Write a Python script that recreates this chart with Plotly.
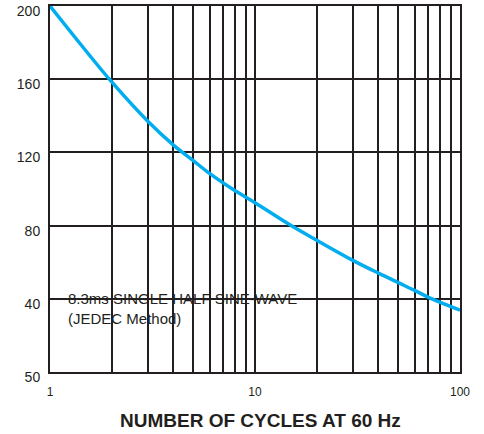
import plotly.graph_objects as go

cycles = [1, 1.4, 2, 3, 4, 5, 6, 8, 10, 15, 20, 30, 40, 50, 60, 72, 100]
current = [200, 179.5, 158.5, 137, 124, 115.5, 108.5, 99, 92.5, 80, 72, 61, 54, 48.8, 44.6, 40.2, 33.8]

x_grid = [1, 2, 3, 4, 5, 6, 7, 8, 9, 10, 20, 30, 40, 50, 60, 70, 80, 90, 100]
x_labels = ["1" if v == 1 else "10" if v == 10 else "100" if v == 100 else "" for v in x_grid]
y_ticks = [0, 40, 80, 120, 160, 200]
y_labels = ["50", "40", "80", "120", "160", "200"]

note = "8.3ms SINGLE HALF SINE-WAVE<br>(JEDEC Method)"
x_title = "NUMBER OF CYCLES AT 60 Hz"

grid_col = "#231f20"
font_fam = "Liberation Sans, Arial"

fig = go.Figure()
fig.add_trace(go.Scatter(
    x=cycles, y=current, mode="lines",
    line=dict(color="#00aeef", width=3.5, shape="spline", smoothing=1.0),
    hoverinfo="skip", showlegend=False,
))

fig.add_annotation(
    x=0.04, y=40, xref="x domain", yref="y", text=note, showarrow=False,
    xanchor="left", yanchor="top", align="left", yshift=11,
    font=dict(family=font_fam, size=15, color="#231f20"),
)
fig.add_annotation(
    x=0.5, y=0, xref="x domain", yref="paper", text="<b>" + x_title + "</b>",
    showarrow=False, xanchor="center", yanchor="middle", yshift=-48, xshift=5,
    font=dict(family=font_fam, size=19, color="#231f20"),
)

fig.update_layout(
    width=484, height=434,
    margin=dict(l=50, r=24, t=6, b=62, autoexpand=False),
    paper_bgcolor="white", plot_bgcolor="white",
    font=dict(family=font_fam, size=12, color="#231f20"),
)
fig.update_xaxes(
    type="log", range=[0, 2], automargin=False,
    tickmode="array", tickvals=x_grid, ticktext=x_labels,
    tickfont=dict(size=12), ticklabeloverflow="allow",
    showgrid=True, gridcolor=grid_col, gridwidth=1.6,
    showline=True, linecolor=grid_col, linewidth=2, mirror=True,
    ticks="", ticklabelstandoff=8,
    zeroline=False,
)
fig.update_yaxes(
    range=[0, 200], automargin=False,
    tickmode="array", tickvals=y_ticks, ticktext=y_labels,
    tickfont=dict(size=14), ticklabeloverflow="allow",
    showgrid=True, gridcolor=grid_col, gridwidth=1.6,
    showline=True, linecolor=grid_col, linewidth=2, mirror=True,
    ticks="", zeroline=False, ticklabelstandoff=5, ticklabelshift=5,
)

fig.write_html(
    "out.html",
    config={"displayModeBar": False},
    post_script="document.body.style.margin='0';",
)
